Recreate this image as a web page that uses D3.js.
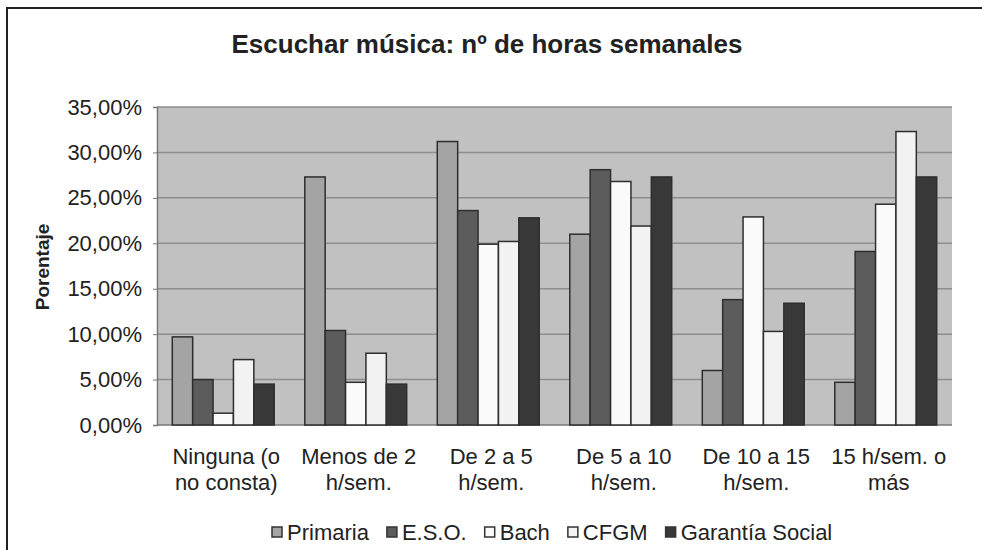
<!DOCTYPE html>
<html>
<head>
<meta charset="utf-8">
<script src="https://cdn.jsdelivr.net/npm/d3@7"></script>
<style>
  body { margin: 0; background: #fff; }
  svg text { font-family: "Liberation Sans", Arial, sans-serif; fill: #222; }
</style>
</head>
<body>
<svg id="svg" width="982" height="550"></svg>
<script>
const categories = [
  ["Ninguna (o", "no consta)"],
  ["Menos de 2", "h/sem."],
  ["De 2 a 5", "h/sem."],
  ["De 5 a 10", "h/sem."],
  ["De 10 a 15", "h/sem."],
  ["15 h/sem. o", "más"]
];
const seriesNames = ["Primaria", "E.S.O.", "Bach", "CFGM", "Garantía Social"];
const primaria = [9.7, 27.3, 31.2, 21.0, 6.0, 4.7];
const eso      = [5.0, 10.4, 23.6, 28.1, 13.8, 19.1];
const bach     = [1.3, 4.7, 19.9, 26.8, 22.9, 24.3];
const cfgm     = [7.2, 7.9, 20.2, 21.9, 10.3, 32.3];
const garantia = [4.5, 4.5, 22.8, 27.3, 13.4, 27.3];
const yTicks = [0, 5, 10, 15, 20, 25, 30, 35];
const yTickLabels = ["0,00%", "5,00%", "10,00%", "15,00%", "20,00%", "25,00%", "30,00%", "35,00%"];

const values = [primaria, eso, bach, cfgm, garantia];
const fills = ["#a4a4a4", "#5c5c5c", "#fafafa", "#f2f2f2", "#383838"];

const svg = d3.select("svg#svg");

const plot = { left: 157, right: 952, top: 107, bottom: 425 };

// outer frame: only top and left edges show in the picture
svg.append("path")
  .attr("d", "M7,550 V8 H982")
  .attr("fill", "none")
  .attr("stroke", "#222")
  .attr("stroke-width", 2);

svg.append("text")
  .attr("x", 487)
  .attr("y", 53)
  .attr("text-anchor", "middle")
  .attr("font-size", 26)
  .attr("font-weight", "bold")
  .text("Escuchar música: nº de horas semanales");

const x0 = d3.scaleBand()
  .domain(d3.range(categories.length))
  .range([plot.left, plot.right])
  .padding(0);

const x1 = d3.scaleBand()
  .domain(d3.range(seriesNames.length))
  .range([0, x0.bandwidth()])
  .paddingInner(0)
  .paddingOuter(0.75);

const y = d3.scaleLinear()
  .domain([0, 35])
  .range([plot.bottom, plot.top]);

svg.append("rect")
  .attr("x", plot.left)
  .attr("y", plot.top)
  .attr("width", plot.right - plot.left)
  .attr("height", plot.bottom - plot.top)
  .attr("fill", "#c1c1c1");

svg.append("g")
  .selectAll("line")
  .data(yTicks.slice(1))
  .enter()
  .append("line")
  .attr("x1", plot.left)
  .attr("x2", plot.right)
  .attr("y1", d => y(d))
  .attr("y2", d => y(d))
  .attr("stroke", "#8e8e8e")
  .attr("stroke-width", 1.5);

const yAxis = svg.append("g")
  .attr("transform", "translate(" + plot.left + ",0)")
  .call(d3.axisLeft(y).tickValues(yTicks).tickSize(4).tickPadding(11)
    .tickFormat((d, i) => yTickLabels[i]));
yAxis.select(".domain").attr("stroke", "#777").attr("stroke-width", 1.5);
yAxis.selectAll(".tick line").attr("stroke", "#777");
yAxis.selectAll("text").attr("font-size", 22).attr("fill", "#333");

svg.append("line")
  .attr("x1", plot.left)
  .attr("x2", plot.right)
  .attr("y1", plot.bottom)
  .attr("y2", plot.bottom)
  .attr("stroke", "#777")
  .attr("stroke-width", 1.5);

const groups = svg.append("g")
  .selectAll("g")
  .data(categories)
  .enter()
  .append("g")
  .attr("transform", (d, i) => "translate(" + x0(i) + ",0)");

groups.selectAll("rect")
  .data((d, i) => values.map((s, k) => ({ k: k, v: s[i] })))
  .enter()
  .append("rect")
  .attr("x", d => x1(d.k))
  .attr("y", d => y(d.v))
  .attr("width", x1.bandwidth())
  .attr("height", d => y(0) - y(d.v))
  .attr("fill", d => fills[d.k])
  .attr("stroke", "#2e2e2e")
  .attr("stroke-width", 1.5);

const labels = svg.append("g")
  .selectAll("text")
  .data(categories)
  .enter()
  .append("text")
  .attr("x", (d, i) => x0(i) + x0.bandwidth() / 2 + 3)
  .attr("y", 464)
  .attr("text-anchor", "middle")
  .attr("font-size", 22)
  .attr("fill", "#333");

labels.selectAll("tspan")
  .data(d => d)
  .enter()
  .append("tspan")
  .attr("x", function() { return this.parentNode.getAttribute("x"); })
  .attr("dy", (d, i) => i === 0 ? 0 : 26)
  .text(d => d);

svg.append("text")
  .attr("transform", "translate(49,267) rotate(-90)")
  .attr("text-anchor", "middle")
  .attr("font-size", 19)
  .attr("font-weight", "bold")
  .text("Porentaje");

// legend
const legend = svg.append("g").attr("transform", "translate(272,540)");
let lx = 0;
seriesNames.forEach(function(name, k) {
  legend.append("rect")
    .attr("x", lx)
    .attr("y", -13)
    .attr("width", 10)
    .attr("height", 10)
    .attr("fill", fills[k])
    .attr("stroke", "#333")
    .attr("stroke-width", 1.5);
  const t = legend.append("text")
    .attr("x", lx + 15)
    .attr("y", 0)
    .attr("font-size", 22)
    .attr("fill", "#333")
    .text(name);
  lx += 15 + t.node().getComputedTextLength() + 18;
});
</script>
</body>
</html>
